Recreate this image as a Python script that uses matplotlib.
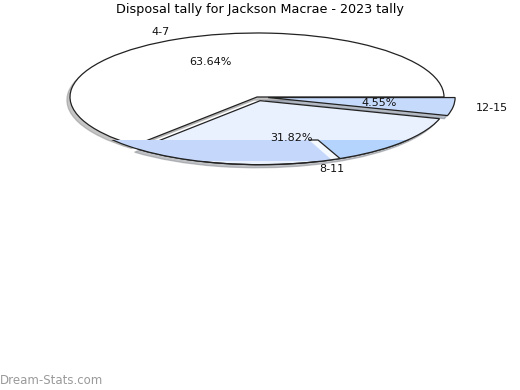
import matplotlib
matplotlib.use("Agg")
import matplotlib.pyplot as plt
from matplotlib.patches import Rectangle, Circle, Polygon, Arc

# ---- data ----
labels = ["4-7", "8-11", "12-15"]
counts = [14, 7, 1]
colors = ["#ffffff", "#eaf1fe", "#c6dafc"]
explode = [0.0, 0.06, 0.06]
title = "Disposal tally for Jackson Macrae - 2023 tally"

W, H = 520, 390
fig = plt.figure(figsize=(W / 100, H / 100), dpi=100)

# ellipse box in pixels: x 70..444, y 33..161
x0, x1, y0, y1 = 70, 444, 33, 161
ax = fig.add_axes([x0 / W, 1 - y1 / H, (x1 - x0) / W, (y1 - y0) / H])

wedges, texts, autotexts = ax.pie(
    counts, labels=labels, colors=colors, explode=explode,
    startangle=0, counterclock=True, autopct="%.2f%%",
    pctdistance=0.6, labeldistance=1.12,
    shadow={"ox": -0.012, "oy": -0.035, "shade": 0.45},
    wedgeprops={"edgecolor": "#222222", "linewidth": 0.9},
    textprops={"fontsize": 8, "color": "#111111"},
)
ax.set_aspect("auto")
ax.set_xlim(-1, 1)
ax.set_ylim(-1, 1)

for a in ax.get_children():
    try:
        a.set_clip_on(False)
    except Exception:
        pass


def px(x, y):
    # pixel position -> pie data units
    return ((x - 257) / 187, (97 - y) / 64)


# lower blue band (pseudo 3d bottom), clipped to the pie outline
z = 3
bx, by = px(100, 140)
bx2, _ = px(412, 140)
cx, cy = explode[1] * 0.28, -explode[1] * 0.96
body = Circle((cx, cy), 1.0, transform=ax.transData,
              facecolor="none", edgecolor="none")
ax.add_patch(body)
band = Rectangle((bx, -1.5), bx2 - bx, by + 1.5, facecolor="#c5d8fc",
                 edgecolor="none", zorder=z)
ax.add_patch(band)
band.set_clip_path(body)
right = Polygon([px(318, 140), px(412, 140), px(412, 175), px(343, 175)],
                facecolor="#b5d4fd", edgecolor="none", zorder=z + 0.1)
ax.add_patch(right)
right.set_clip_path(body)
gap = Polygon([px(309, 140), px(318, 140), px(343, 161), px(333, 161)],
              closed=False, facecolor="#f4f8ff", edgecolor="#222222",
              linewidth=0.9, zorder=z + 0.2)
ax.add_patch(gap)
gap.set_clip_path(body)

# outline of the band bottom
box = Rectangle((bx - 0.05, -1.5), bx2 - bx + 0.1, by + 1.5,
                facecolor="none", edgecolor="none")
ax.add_patch(box)
rim = Arc((cx, cy), 2.0, 2.0, theta1=180, theta2=360, edgecolor="#222222",
          linewidth=0.9, zorder=z + 0.5)
ax.add_patch(rim)
rim.set_clip_path(box)

for t in autotexts:
    t.set_zorder(10)

fig.text(0.5, 1 - 10 / H, title, ha="center", va="center", fontsize=9.2)
fig.text(0.0, 1 - 380 / H, "Dream-Stats.com", ha="left", va="center",
         fontsize=8.5, color="#9a9a9a")

fig.savefig("out.png", dpi=100)
